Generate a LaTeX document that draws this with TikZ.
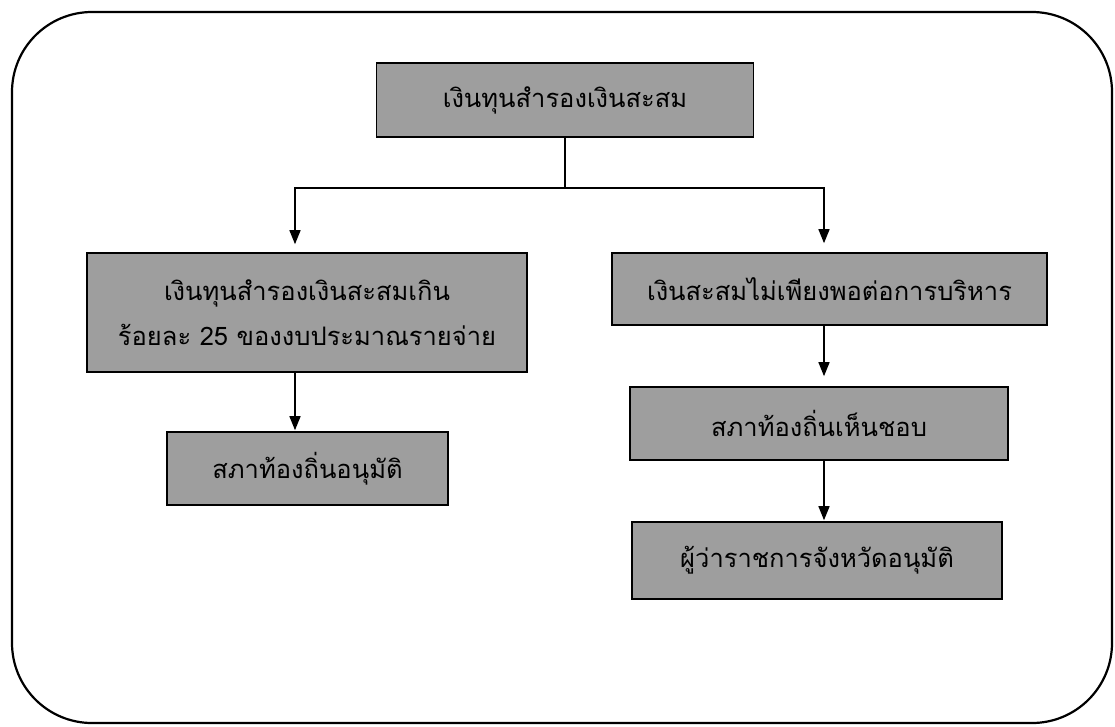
\documentclass[tikz,border=0pt]{standalone}
\usepackage{fontspec}
\newfontfamily\thaifont[Script=Thai]{Loma}
\usetikzlibrary{arrows.meta}
\begin{document}
\begin{tikzpicture}[x=1pt,y=-1pt,
  box/.style={draw=black, line width=1.6pt, fill=black!38, text=black,
    font=\thaifont\fontsize{25.5}{45}\selectfont, align=center, inner sep=0pt},
  link/.style={line width=1.4pt, draw=black},
  arr/.style={link, -{Triangle[width=11pt,length=14pt]}}]
\useasboundingbox (0,0) rectangle (1115,726);
\draw[line width=2.2pt, rounded corners=80pt] (12,12) rectangle (1112,723);

\node[box, minimum width=377pt, minimum height=74pt] (top) at (565,100) {เงินทุนสำรองเงินสะสม};
\node[box, minimum width=440pt, minimum height=119pt] (l1) at (307,312.5) {เงินทุนสำรองเงินสะสมเกิน\\ร้อยละ 25 ของงบประมาณรายจ่าย};
\node[box, minimum width=435pt, minimum height=72pt] (r1) at (829.5,289) {เงินสะสมไม่เพียงพอต่อการบริหาร};
\node[box, minimum width=281pt, minimum height=73pt] (l2) at (307.5,468.5) {สภาท้องถิ่นอนุมัติ};
\node[box, minimum width=378pt, minimum height=73pt] (r2) at (819,423.5) {สภาท้องถิ่นเห็นชอบ};
\node[box, minimum width=370pt, minimum height=77pt] (r3) at (817,560.5) {ผู้ว่าราชการจังหวัดอนุมัติ};

\coordinate (j) at (565,188);
\coordinate (lx) at (295,0);
\coordinate (rx) at (824,0);

\draw[link] (top.south) -- (j);
\draw[arr, shorten >=8pt] (j) -| (l1.north -| lx);
\draw[arr, shorten >=9pt] (j) -| (r1.north -| rx);
\draw[arr, shorten >=1pt] (l1.south -| lx) -- (l2.north -| lx);
\draw[arr, shorten >=10pt] (r1.south -| rx) -- (r2.north -| rx);
\draw[arr, shorten >=1pt] (r2.south -| rx) -- (r3.north -| rx);
\end{tikzpicture}
\end{document}
